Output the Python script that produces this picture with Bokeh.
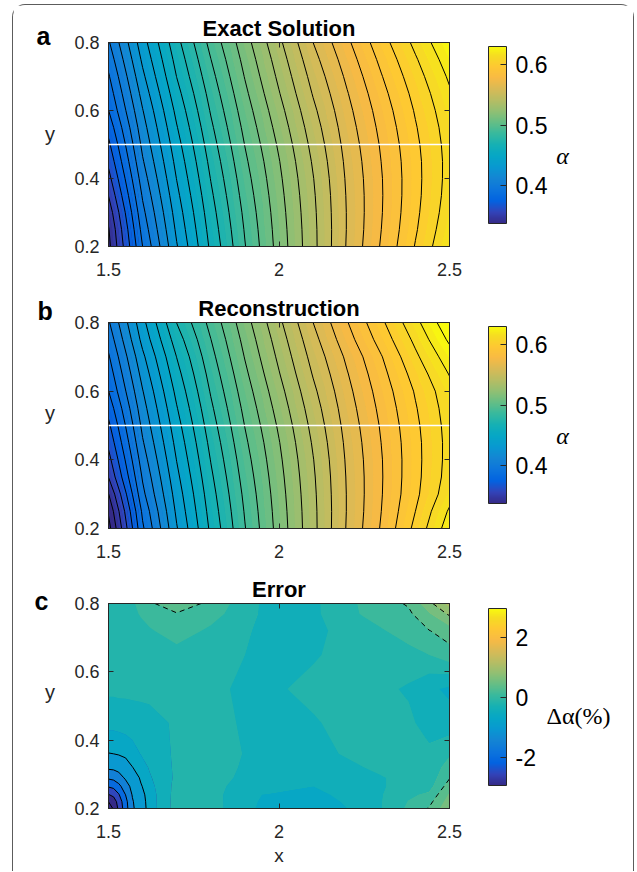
import numpy as np
from bokeh.plotting import figure
from bokeh.models import Range1d, LinearAxis, FixedTicker, Span, LinearColorMapper, ColorBar
from bokeh.layouts import row, column
from bokeh.core.properties import value
from bokeh.embed import file_html
from bokeh.resources import INLINE

# ---------------- data ----------------
grid_x = [1.5, 1.6, 1.7, 1.8, 1.9, 2.0, 2.1, 2.2, 2.3, 2.4, 2.5]
grid_y = [0.20, 0.25, 0.30, 0.35, 0.40, 0.45, 0.50, 0.55, 0.60, 0.65, 0.70, 0.75, 0.80]

alpha_exact = [
    [0.3370, 0.3900, 0.4292, 0.4620, 0.4895, 0.5140, 0.5372, 0.5610, 0.5810, 0.6006, 0.6194],
    [0.3391, 0.3936, 0.4319, 0.4639, 0.4908, 0.5147, 0.5374, 0.5606, 0.5800, 0.5989, 0.6171],
    [0.3437, 0.3973, 0.4345, 0.4659, 0.4923, 0.5156, 0.5379, 0.5606, 0.5794, 0.5978, 0.6152],
    [0.3502, 0.4011, 0.4374, 0.4681, 0.4941, 0.5167, 0.5386, 0.5609, 0.5792, 0.5971, 0.6140],
    [0.3564, 0.4050, 0.4403, 0.4704, 0.4960, 0.5180, 0.5396, 0.5615, 0.5794, 0.5969, 0.6134],
    [0.3623, 0.4089, 0.4431, 0.4728, 0.4981, 0.5195, 0.5411, 0.5624, 0.5801, 0.5971, 0.6133],
    [0.3678, 0.4125, 0.4461, 0.4754, 0.5003, 0.5215, 0.5430, 0.5637, 0.5811, 0.5979, 0.6138],
    [0.3736, 0.4159, 0.4493, 0.4781, 0.5026, 0.5239, 0.5452, 0.5653, 0.5826, 0.5992, 0.6148],
    [0.3798, 0.4195, 0.4527, 0.4809, 0.5051, 0.5265, 0.5478, 0.5672, 0.5844, 0.6009, 0.6165],
    [0.3843, 0.4236, 0.4564, 0.4837, 0.5078, 0.5294, 0.5507, 0.5694, 0.5867, 0.6031, 0.6187],
    [0.3888, 0.4278, 0.4602, 0.4867, 0.5105, 0.5321, 0.5535, 0.5720, 0.5894, 0.6058, 0.6215],
    [0.3937, 0.4319, 0.4635, 0.4898, 0.5131, 0.5348, 0.5566, 0.5749, 0.5924, 0.6089, 0.6249],
    [0.3987, 0.4358, 0.4669, 0.4931, 0.5159, 0.5378, 0.5600, 0.5781, 0.5958, 0.6125, 0.6289],
]

alpha_recon = [
    [0.3260, 0.3883, 0.4292, 0.4620, 0.4895, 0.5140, 0.5372, 0.5610, 0.5810, 0.6027, 0.6253],
    [0.3313, 0.3920, 0.4319, 0.4639, 0.4908, 0.5147, 0.5374, 0.5606, 0.5800, 0.6000, 0.6214],
    [0.3396, 0.3973, 0.4345, 0.4659, 0.4923, 0.5156, 0.5379, 0.5606, 0.5794, 0.5978, 0.6160],
    [0.3502, 0.4011, 0.4374, 0.4681, 0.4941, 0.5167, 0.5386, 0.5609, 0.5792, 0.5971, 0.6140],
    [0.3564, 0.4050, 0.4403, 0.4704, 0.4960, 0.5180, 0.5396, 0.5615, 0.5794, 0.5969, 0.6134],
    [0.3623, 0.4089, 0.4431, 0.4728, 0.4981, 0.5195, 0.5411, 0.5624, 0.5801, 0.5971, 0.6133],
    [0.3678, 0.4125, 0.4461, 0.4754, 0.5003, 0.5215, 0.5430, 0.5637, 0.5811, 0.5979, 0.6138],
    [0.3736, 0.4159, 0.4493, 0.4781, 0.5026, 0.5239, 0.5452, 0.5653, 0.5826, 0.5992, 0.6148],
    [0.3798, 0.4195, 0.4527, 0.4809, 0.5051, 0.5265, 0.5478, 0.5672, 0.5844, 0.6009, 0.6165],
    [0.3843, 0.4236, 0.4564, 0.4837, 0.5078, 0.5294, 0.5507, 0.5694, 0.5867, 0.6040, 0.6205],
    [0.3888, 0.4278, 0.4602, 0.4867, 0.5105, 0.5321, 0.5535, 0.5720, 0.5894, 0.6080, 0.6255],
    [0.3937, 0.4330, 0.4650, 0.4898, 0.5131, 0.5348, 0.5566, 0.5760, 0.5940, 0.6123, 0.6318],
    [0.3987, 0.4370, 0.4702, 0.4931, 0.5159, 0.5378, 0.5600, 0.5795, 0.5980, 0.6171, 0.6374],
]

err_x = [1.50, 1.515, 1.53, 1.55, 1.57, 1.595, 1.62, 1.70, 1.80, 1.95, 2.10, 2.25, 2.38, 2.44, 2.50]
err_y = [0.20, 0.22, 0.24, 0.265, 0.29, 0.32, 0.36, 0.45, 0.55, 0.65, 0.72, 0.77, 0.80]
err_pct = [
    [-3.42, -2.92, -2.40, -1.71, -1.09, -0.67, -0.39, 0.12, 0.10, -0.30, -0.35, -0.20, 0.30, 0.52, 0.95],
    [-2.99, -2.75, -2.30, -1.66, -1.05, -0.65, -0.38, 0.11, 0.09, -0.28, -0.33, -0.18, 0.26, 0.42, 0.87],
    [-2.53, -2.39, -2.05, -1.50, -0.97, -0.61, -0.37, 0.10, 0.08, -0.25, -0.30, -0.15, 0.20, 0.30, 0.78],
    [-1.95, -1.87, -1.64, -1.22, -0.86, -0.53, -0.33, 0.08, 0.08, -0.18, -0.25, -0.12, 0.12, 0.15, 0.63],
    [-1.42, -1.36, -1.20, -0.93, -0.72, -0.45, -0.28, 0.05, 0.08, -0.10, -0.20, -0.08, 0.08, 0.10, 0.48],
    [-0.91, -0.89, -0.83, -0.69, -0.51, -0.36, -0.23, 0.05, 0.08, -0.07, -0.12, 0.00, 0.06, 0.08, 0.36],
    [-0.51, -0.50, -0.47, -0.42, -0.34, -0.24, -0.18, 0.05, 0.08, -0.05, -0.05, 0.05, 0.05, 0.05, 0.22],
    [-0.17, -0.17, -0.16, -0.15, -0.14, -0.13, -0.12, 0.05, 0.05, -0.05, -0.02, 0.10, 0.05, -0.10, -0.15],
    [0.05, 0.05, 0.06, 0.06, 0.07, 0.08, 0.10, 0.12, 0.03, -0.05, 0.05, 0.10, -0.03, -0.20, -0.30],
    [0.10, 0.10, 0.10, 0.11, 0.12, 0.13, 0.15, 0.15, 0.10, -0.05, -0.02, 0.10, 0.15, 0.25, 0.40],
    [0.10, 0.11, 0.12, 0.13, 0.15, 0.18, 0.22, 0.38, 0.20, -0.05, -0.05, 0.12, 0.38, 0.49, 0.62],
    [0.12, 0.13, 0.15, 0.17, 0.20, 0.27, 0.35, 0.48, 0.35, -0.03, -0.05, 0.28, 0.45, 0.72, 1.05],
    [0.12, 0.13, 0.15, 0.18, 0.22, 0.32, 0.45, 0.70, 0.42, -0.03, -0.05, 0.30, 0.53, 0.92, 1.35],
]

x_ticks = [1.5, 2, 2.5]
x_tick_labels = ["1.5", "2", "2.5"]
y_ticks = [0.2, 0.4, 0.6, 0.8]
y_tick_labels = ["0.2", "0.4", "0.6", "0.8"]

alpha_range = [0.337, 0.630]
alpha_cb_ticks = [0.4, 0.5, 0.6]
alpha_cb_labels = ["0.4", "0.5", "0.6"]
err_range = [-2.95, 2.95]
err_cb_ticks = [-2, 0, 2]
err_cb_labels = ["-2", "0", "2"]

alpha_line_levels = [0.33, 0.34, 0.35, 0.36, 0.37, 0.38, 0.39, 0.40, 0.41, 0.42, 0.43,
                     0.44, 0.45, 0.46, 0.47, 0.48, 0.49, 0.50, 0.51, 0.52, 0.53,
                     0.54, 0.55, 0.56, 0.57, 0.58, 0.59, 0.60, 0.61, 0.62, 0.63]
err_neg_levels = [-3.0, -2.5, -2.0, -1.5, -1.0, -0.5]
err_pos_levels = [0.5, 1.0]
err_fill_levels = [-3.5, -3.0, -2.5, -2.0, -1.5, -1.0, -0.5, -0.25, 0.0, 0.25, 0.5, 0.75, 1.0, 1.25, 1.5]
cut_y = 0.5

# ---------------- styling ----------------
FONT = "Liberation Sans"
AX = "#262626"
PARULA_ANCHORS = [
    (0, 0.2081, 0.1663, 0.5292), (4, 0.1959, 0.2645, 0.7279), (8, 0.0117, 0.3875, 0.8820),
    (12, 0.0498, 0.4586, 0.8641), (16, 0.0793, 0.5200, 0.8312), (20, 0.0343, 0.5966, 0.8199),
    (24, 0.0228, 0.6535, 0.7768), (28, 0.0843, 0.6928, 0.7062), (32, 0.2178, 0.7250, 0.6193),
    (36, 0.3953, 0.7459, 0.5244), (40, 0.5709, 0.7485, 0.4494), (44, 0.7184, 0.7411, 0.3905),
    (48, 0.8507, 0.7299, 0.3360), (52, 0.9739, 0.7314, 0.2666), (56, 0.9955, 0.7861, 0.1967),
    (60, 0.9626, 0.8705, 0.1309), (63, 0.9763, 0.9831, 0.0538),
]
_pa = np.array(PARULA_ANCHORS)


def parula_hex(frac):
    f = float(np.clip(frac, 0.0, 1.0)) * 63.0
    r = np.interp(f, _pa[:, 0], _pa[:, 1])
    g = np.interp(f, _pa[:, 0], _pa[:, 2])
    b = np.interp(f, _pa[:, 0], _pa[:, 3])
    return "#%02x%02x%02x" % (int(round(r * 255)), int(round(g * 255)), int(round(b * 255)))


PARULA256 = [parula_hex(i / 255.0) for i in range(256)]


def band_colors(levels, lo, hi, shift=0.0):
    return [parula_hex(((a + b) / 2.0 - shift - lo) / (hi - lo)) for a, b in zip(levels[:-1], levels[1:])]


def style_axis(ax, fs="18px"):
    ax.major_tick_in = 5
    ax.major_tick_out = 0
    ax.minor_tick_line_color = None
    ax.axis_line_color = AX
    ax.major_tick_line_color = AX
    ax.major_label_text_font = FONT
    ax.major_label_text_font_size = fs
    ax.major_label_text_color = AX


def bare(w, top, fh, bottom):
    s = figure(frame_width=w, frame_height=fh, min_border_left=0, min_border_right=0,
               min_border_top=top, min_border_bottom=bottom,
               x_range=Range1d(0, w), y_range=Range1d(fh, 0),
               toolbar_location=None, output_backend="svg",
               x_axis_location=None, y_axis_location=None)
    s.grid.visible = False
    s.outline_line_color = None
    return s


def make_main(title, top, fh, bottom, xlabel=None):
    p = figure(frame_width=341, frame_height=fh,
               x_range=Range1d(x_ticks[0], x_ticks[-1]), y_range=Range1d(y_ticks[0], y_ticks[-1]),
               toolbar_location=None, output_backend="svg",
               min_border_left=46, min_border_right=19, min_border_top=top, min_border_bottom=bottom,
               title=title)
    p.grid.visible = False
    p.outline_line_color = AX
    p.outline_line_width = 1
    xa = p.xaxis[0]
    ya = p.yaxis[0]
    style_axis(xa)
    style_axis(ya)
    xa.ticker = FixedTicker(ticks=x_ticks)
    xa.major_label_overrides = dict(zip(x_ticks, x_tick_labels))
    xa.major_label_standoff = 16
    ya.ticker = FixedTicker(ticks=y_ticks)
    ya.major_label_overrides = dict(zip(y_ticks, y_tick_labels))
    ya.major_label_standoff = 9
    if xlabel:
        xa.axis_label = xlabel
        xa.axis_label_text_font = FONT
        xa.axis_label_text_font_size = "19px"
        xa.axis_label_text_font_style = "normal"
        xa.axis_label_text_color = AX
        xa.axis_label_standoff = 4
    for loc, tk in (("above", x_ticks), ("right", y_ticks)):
        ax = LinearAxis(ticker=FixedTicker(ticks=tk))
        style_axis(ax, "1px")
        ax.major_label_text_color = None
        ax.major_label_standoff = 0
        p.add_layout(ax, loc)
    p.title.align = "center"
    p.title.text_font = FONT
    p.title.text_font_size = "22px"
    p.title.text_font_style = "bold"
    p.title.text_color = "black"
    p.title.standoff = 3
    return p


LEFT_W = 49
CBAR_W = 165


def make_left(top, fh, bottom, letter, letter_off, letter_standoff, ylab_y):
    s = bare(LEFT_W, top, fh, bottom)
    s.title.text = letter
    s.title.align = "left"
    s.title.offset = letter_off
    s.title.standoff = letter_standoff
    s.title.text_font = FONT
    s.title.text_font_size = "25px"
    s.title.text_font_style = "bold"
    s.title.text_color = "black"
    s.text(x=[36.5], y=[ylab_y], text=["y"], text_font=value(FONT), text_font_size="20px",
           text_color=AX, text_align="center", text_baseline="middle")
    return s


def make_cbar(top, fh, bottom, lo, hi, ticks, labels, bar_bottom, cb_text, tx, ty, italic):
    c = bare(CBAR_W, top, fh, bottom)
    mapper = LinearColorMapper(palette=PARULA256, low=lo, high=hi)
    cb = ColorBar(color_mapper=mapper, location=(20, bar_bottom), width=18, height=177,
                  padding=0, margin=0, ticker=FixedTicker(ticks=ticks),
                  major_label_overrides=dict(zip(ticks, labels)),
                  major_label_text_font=FONT, major_label_text_font_size="23px",
                  major_label_text_color="black", major_tick_in=6, major_tick_out=0,
                  major_tick_line_color=AX, minor_tick_line_color=None, bar_line_color=AX,
                  border_line_color=None, background_fill_color=None, label_standoff=9)
    c.add_layout(cb, "center")
    c.text(x=[tx], y=[ty], text=[cb_text], text_font=value("Liberation Serif"), text_font_size="24px",
           text_font_style="italic" if italic else "normal", text_color="black",
           text_align="center", text_baseline="middle")
    return c


def add_field(p, xs, ys, z, fill_levels, lo, hi, shift=0.0):
    zz = np.array(z)
    mapper = LinearColorMapper(palette=PARULA256, low=lo + shift, high=hi + shift)
    p.image(image=[zz], x=xs[0], y=ys[0], dw=xs[-1] - xs[0], dh=ys[-1] - ys[0], color_mapper=mapper)
    p.contour(x=xs, y=ys, z=zz, levels=fill_levels, fill_color=band_colors(fill_levels, lo, hi, shift))


fill_alpha_levels = list(np.round(np.arange(0.320, 0.6451, 0.005), 3))

# ---- panel a ----
TA, FA, BA = 37, 204, 40
la = make_left(TA, FA, BA, "a", 23, -15, 91)
pa = make_main("Exact Solution", TA, FA, BA)
add_field(pa, grid_x, grid_y, alpha_exact, fill_alpha_levels, *alpha_range)
pa.contour(x=grid_x, y=grid_y, z=np.array(alpha_exact), levels=alpha_line_levels,
           line_color="black", line_width=1)
pa.add_layout(Span(location=cut_y, dimension="width", line_color="white", line_width=1.5))
ca = make_cbar(TA, FA, BA, alpha_range[0], alpha_range[1], alpha_cb_ticks, alpha_cb_labels, 23,
               "α", 94, 113, True)

# ---- panel b ----
TB, FB, BB = 36, 206, 39
lb = make_left(TB, FB, BB, "b", 24, -4, 90)
pb = make_main("Reconstruction", TB, FB, BB)
add_field(pb, grid_x, grid_y, alpha_recon, fill_alpha_levels, *alpha_range)
pb.contour(x=grid_x, y=grid_y, z=np.array(alpha_recon), levels=alpha_line_levels,
           line_color="black", line_width=1)
pb.add_layout(Span(location=cut_y, dimension="width", line_color="white", line_width=1.5))
cbb = make_cbar(TB, FB, BB, alpha_range[0], alpha_range[1], alpha_cb_ticks, alpha_cb_labels, 25,
                "α", 94, 113, True)

# ---- panel c ----
TC, FC, BC = 36, 205, 63
lc = make_left(TC, FC, BC, "c", 21, -22, 88)
pc = make_main("Error", TC, FC, BC, xlabel="x")
add_field(pc, err_x, err_y, err_pct, err_fill_levels, *err_range, shift=0.3)
pc.contour(x=err_x, y=err_y, z=np.array(err_pct), levels=err_neg_levels,
           line_color="black", line_width=1)
pc.contour(x=err_x, y=err_y, z=np.array(err_pct), levels=err_pos_levels,
           line_color="black", line_width=1, line_dash="5 4")
cc = make_cbar(TC, FC, BC, err_range[0], err_range[1], err_cb_ticks, err_cb_labels, 23,
               "Δα(%)", 110, 112, False)

layout = column(row(la, pa, ca), row(lb, pb, cbb), row(lc, pc, cc),
                margin=(4, 0, 0, 12),
                styles={"border-top": "1px solid #5c5c5c", "border-left": "1px solid #5c5c5c",
                        "border-right": "1px solid #5c5c5c", "border-bottom": "none",
                        "border-radius": "13px 13px 0 0"})

with open("out.html", "w") as f:
    f.write(file_html(layout, INLINE))
